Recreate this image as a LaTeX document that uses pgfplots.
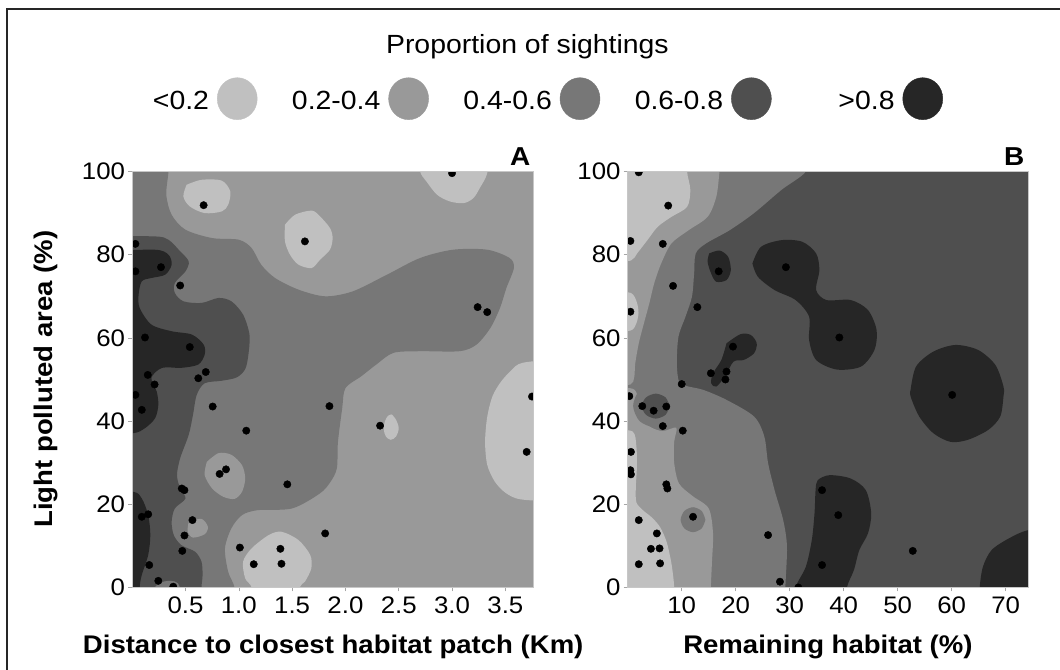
\documentclass[border=0pt]{standalone}
\usepackage{fontspec}
\setmainfont{Liberation Sans}[FakeStretch=1.08]
\usepackage{pgfplots}
\pgfplotsset{compat=1.18}
\definecolor{c1}{HTML}{C0C0C0}
\definecolor{c2}{HTML}{999999}
\definecolor{c3}{HTML}{777777}
\definecolor{c4}{HTML}{4F4F4F}
\definecolor{c5}{HTML}{262626}
\pgfplotsset{
  reg/.style={draw=none, forget plot, smooth, tension=0.5},
  dots/.style={only marks, mark=*, mark size=3.7bp, mark options={draw=black, fill=black}, forget plot},
  contourax/.style={
    scale only axis, height=416bp, ymin=0, ymax=100, ytick={0,20,40,60,80,100},
    tick align=outside, tick pos=left, major tick length=4bp,
    axis line style={draw=black!22, line width=0.6bp},
    tick style={draw=black!35, line width=0.6bp},
    ticklabel style={font=\fontsize{24}{24}\selectfont},
    /pgf/number format/assume math mode=true,
    yticklabel style={inner sep=3bp},
    xticklabel style={inner sep=5bp},
    axis on top, clip marker paths=true, anchor=south west,
  }
}
\begin{document}
\begin{tikzpicture}
\useasboundingbox (0,0) rectangle (1060bp,670bp);
\draw[line width=2.2bp, draw=black!85] (7bp,-10bp) -- (7bp,661bp) -- (1075bp,661bp);

% ---------------- Panel A ----------------
\begin{axis}[contourax, at={(132.2bp,82.5bp)}, width=401.5bp,
  xmin=0, xmax=3.766, xtick={0.5,1,1.5,2,2.5,3,3.5},
  xticklabels={0.5,1.0,1.5,2.0,2.5,3.0,3.5},
  axis background/.style={fill=c2},
  legend columns=5, legend plot pos=right,
  legend style={draw=none, fill=none, at={(0.9908,1.175)}, anchor=center,
    font=\fontsize{26.4}{26.4}\selectfont,
    /tikz/every odd column/.append style={column sep=6bp},
    /tikz/every even column/.append style={column sep=31bp}},
]
\addlegendimage{legend image code/.code={\fill[c1] (20bp,2bp) ellipse [x radius=20bp, y radius=21bp];}}
\addlegendentry{\makebox[90bp][r]{<0.2}}
\addlegendimage{legend image code/.code={\fill[c2] (20bp,2bp) ellipse [x radius=20bp, y radius=21bp];}}
\addlegendentry{\makebox[90bp][r]{0.2-0.4}}
\addlegendimage{legend image code/.code={\fill[c3] (20bp,2bp) ellipse [x radius=20bp, y radius=21bp];}}
\addlegendentry{\makebox[90bp][r]{0.4-0.6}}
\addlegendimage{legend image code/.code={\fill[c4] (20bp,2bp) ellipse [x radius=20bp, y radius=21bp];}}
\addlegendentry{\makebox[90bp][r]{0.6-0.8}}
\addlegendimage{legend image code/.code={\fill[c5] (20bp,2bp) ellipse [x radius=20bp, y radius=21bp];}}
\addlegendentry{\makebox[90bp][r]{>0.8}}

% 0.4-0.6 region
\addplot[reg, fill=c3] coordinates {(-0.3,105) (0.34,105) (0.34,100) (0.32,94.4) (0.37,89.6) (0.50,86.0) (0.75,84.0) (1.00,83.6) (1.12,81.6) (1.21,77.6) (1.34,74.4) (1.56,71.6) (1.81,70.0) (2.07,71.2) (2.39,75.2) (2.70,79.2) (3.01,81.2) (3.33,81.2) (3.54,79.2) (3.58,76.8) (3.51,72.0) (3.45,67.2) (3.36,62.4) (3.23,58.4) (3.07,56.8) (2.70,56.8) (2.45,56.4) (2.29,53.6) (2.15,50.8) (2.00,47.9) (1.97,43.1) (1.93,35.0) (1.92,28.7) (1.86,25.4) (1.76,22.6) (1.50,19.0) (1.18,18.6) (1.03,17.4) (0.93,14.2) (0.87,9.4) (0.90,3.8) (0.96,0) (0.96,-5) (-0.3,-5)};
% 0.2-0.4 islands
\addplot[reg, fill=c2] coordinates {(0.70,30.2) (0.81,32.3) (0.93,31.9) (1.03,29.4) (1.06,26.2) (1.03,23.0) (0.96,21.3) (0.855,21.8) (0.75,23.8) (0.68,27.0) (0.70,30.2)};
\addplot[reg, fill=c2] coordinates {(0.53,15.8) (0.65,16.5) (0.71,14.6) (0.68,12.8) (0.57,12.0) (0.52,13.4) (0.53,15.8)};
% 0.6-0.8 region
\addplot[reg, fill=c4] coordinates {(-0.3,84.4) (0.21,84.4) (0.34,83.6) (0.45,80.8) (0.53,78.4) (0.50,76.0) (0.40,73.2) (0.40,70.8) (0.48,68.8) (0.65,68.4) (0.81,69.6) (0.93,68.8) (1.04,65.6) (1.10,60.8) (1.09,56.0) (1.06,52.5) (0.98,50.5) (0.84,49.7) (0.68,49.1) (0.605,46.3) (0.57,41.5) (0.53,36.7) (0.45,31.1) (0.42,27.0) (0.45,23.8) (0.50,21.4) (0.40,19.0) (0.37,15.8) (0.39,12.6) (0.46,10.2) (0.59,8.6) (0.65,6.2) (0.66,3.0) (0.65,0) (0.65,-5) (-0.3,-5)};
\addplot[reg, fill=c3] coordinates {(0.20,-2) (0.22,0.3) (0.28,1.3) (0.36,1.6) (0.43,1.0) (0.47,-2)};
% >0.8 regions
\addplot[reg, fill=c5] coordinates {(-0.3,80.8) (0.21,81.2) (0.34,80.0) (0.37,77.6) (0.31,75.2) (0.18,74.4) (0.09,73.6) (0.06,70.4) (0.07,67.2) (0.18,63.2) (0.37,61.6) (0.56,60.8) (0.67,58.4) (0.68,56.0) (0.62,53.6) (0.46,52.8) (0.28,52.8) (0.18,50.4) (0.23,47.1) (0.245,43.9) (0.215,40.7) (0.12,38.3) (0.01,37.1) (-0.3,37)};
\addplot[reg, fill=c5] coordinates {(-0.3,23.0) (0.01,23.0) (0.09,21.4) (0.15,17.4) (0.17,12.6) (0.15,7.8) (0.09,3.0) (0.07,0) (0.07,-5) (-0.3,-5)};
% <0.2 islands
\addplot[reg, fill=c1] coordinates {(0.51,96.8) (0.65,98.0) (0.84,97.8) (0.92,95.2) (0.90,92.0) (0.84,90.4) (0.68,90.0) (0.54,91.6) (0.48,94.0) (0.51,96.8)};
\addplot[reg, fill=c1] coordinates {(1.433,87.2) (1.527,89.6) (1.684,90.6) (1.762,89.2) (1.855,86.4) (1.88,84.0) (1.855,81.2) (1.762,78.8) (1.684,76.8) (1.56,77.6) (1.48,80.0) (1.433,83.2) (1.433,87.2)};
\addplot[reg, fill=c1] coordinates {(2.68,105) (2.70,100) (2.76,97.6) (2.86,94.4) (2.98,92.8) (3.11,92.4) (3.20,93.6) (3.26,96.0) (3.33,99.6) (3.34,105)};
\addplot[reg, fill=c1] coordinates {(4.0,55) (3.66,54) (3.56,52.3) (3.46,49.5) (3.38,46) (3.33,41) (3.31,35) (3.33,29.5) (3.40,25.5) (3.50,22.8) (3.64,21.2) (4.0,20.6)};
\addplot[reg, fill=c1] coordinates {(2.436,41.6) (2.475,40.3) (2.50,38.3) (2.475,36.3) (2.425,35.5) (2.38,36.3) (2.36,37.9) (2.37,39.9) (2.40,41.3) (2.436,41.6)};
\addplot[reg, fill=c1] coordinates {(1.12,-5) (1.12,0) (1.06,2.2) (1.04,6.2) (1.12,9.4) (1.28,12.6) (1.40,13.4) (1.56,11.4) (1.67,7.8) (1.68,4.6) (1.62,1.4) (1.57,0) (1.57,-5)};
% sightings
\addplot[dots] coordinates {(0.67,91.9) (1.62,83.2) (0.03,82.6) (0.27,77.0) (0.03,76.0) (0.45,72.6) (0.12,60.1) (0.54,57.8) (0.146,51.1) (0.69,51.8) (0.62,50.3) (3.00,99.6) (3.24,67.4) (3.33,66.2) (0.21,48.8) (0.03,46.3) (0.09,42.7) (0.755,43.5) (1.07,37.7) (0.88,28.4) (0.82,27.3) (1.455,24.8) (0.465,23.8) (0.49,23.4) (0.09,17.0) (0.15,17.6) (0.565,16.2) (0.49,12.5) (0.47,8.8) (0.16,5.4) (0.245,1.6) (0.385,0.2) (1.01,9.6) (1.14,5.6) (1.39,9.3) (1.40,5.7) (1.81,13.0) (1.85,43.6) (2.325,38.9) (3.75,45.9) (3.70,32.6)};
\end{axis}

% ---------------- Panel B ----------------
\begin{axis}[contourax, at={(627.7bp,82.5bp)}, width=400.6bp,
  xmin=0, xmax=74.2, xtick={10,20,30,40,50,60,70},
  axis background/.style={fill=c4},
]
\addplot[reg, fill=c3] coordinates {(-3,105) (33.6,105) (33.0,100) (28.5,95.6) (23.4,90.0) (18.9,85.9) (14.5,82.7) (12.6,80.3) (12.3,75.5) (11.9,69.9) (10.7,65.1) (9.4,60.3) (9.1,53.9) (9.5,49.5) (11.0,48.4) (14,47.5) (18.3,45.1) (23.4,41.1) (25.3,36.3) (26.0,29.9) (27.2,23.4) (28.8,16.2) (29.5,9.8) (29.2,0) (29.2,-5) (-3,-5)};
\addplot[reg, fill=c2] coordinates {(-3,105) (17.3,105) (17.0,100) (16.4,93.9) (14.8,89.1) (11.3,85.9) (8.1,82.7) (6.2,77.9) (4.9,73.1) (4.0,68.3) (3.0,63.5) (2.05,58.7) (1.4,53.9) (1.2,50.5) (0.5,48.8) (-3,48.5)};
\addplot[reg, fill=c2] coordinates {(-3,47.8) (1.3,47.5) (2.6,41) (4.2,38.6) (6.5,37.6) (9.0,38.4) (8.6,35) (8.6,30) (9.5,25) (12,22) (15,19) (15.8,13) (15.6,6) (15.4,0) (15.4,-5) (-3,-5)};
\addplot[reg, fill=c3] coordinates {(14.4,16.3) (13.7,18.4) (12.1,19.3) (10.5,18.4) (9.8,16.3) (10.5,14.2) (12.1,13.3) (13.7,14.2) (14.4,16.3)};
\addplot[reg, fill=c3] coordinates {(9.2,43.7) (8.0,47.4) (5.1,48.9) (2.2,47.4) (1.0,43.7) (2.2,40.0) (5.1,38.5) (8.0,40.0) (9.2,43.7)};
\addplot[reg, fill=c4] coordinates {(7.8,43.6) (7.0,45.7) (5.2,46.6) (3.4,45.7) (2.6,43.6) (3.4,41.5) (5.2,40.6) (7.0,41.5) (7.8,43.6)};
\addplot[reg, fill=c1] coordinates {(-3,105) (11.2,105) (11.0,100) (11.6,95.6) (11.0,91.5) (8.1,89.1) (5.55,86.7) (3.65,83.5) (1.74,80.3) (0.6,78.6) (-3,78.3)};
\addplot[reg, fill=c1] coordinates {(-3,71) (0.6,70.8) (1.7,68.5) (2.0,66) (1.6,63.5) (0.6,61.8) (-3,61.5)};
\addplot[reg, fill=c1] coordinates {(-3,38) (0.9,37.5) (1.6,34) (1.7,29) (1.5,24) (1.6,20.5) (2.8,18.6) (4.5,16.8) (6,14.5) (7.2,11) (8,6.5) (8.4,3) (8.6,0) (8.6,-5) (-3,-5)};
\addplot[reg, fill=c5] coordinates {(15.1,80.3) (17.0,81.0) (18.6,79.5) (19.1,76.3) (18.3,73.9) (16.4,73.5) (15.45,75.5) (14.8,78.3) (15.1,80.3)};
\addplot[reg, fill=c5] coordinates {(23.1,77.9) (24.7,81.9) (28.5,83.5) (32.35,83.1) (34.9,80.3) (35.5,76.3) (34.9,71.5) (36.8,69.1) (41.3,69.1) (44.5,66.7) (46.1,61.9) (45.7,57.1) (43.2,53.1) (38.7,52.4) (34.9,54.7) (33.6,59.5) (33.6,65.1) (31.1,69.1) (27.2,71.5) (24.1,74.7) (23.1,77.9)};
\addplot[reg, fill=c5] coordinates {(18.3,58.7) (20.9,60.9) (22.8,60.7) (23.9,58.7) (23.4,56.3) (21.5,54.7) (19.6,54.3) (18.0,50.7) (16.4,48.3) (15.45,49.1) (15.8,51.5) (17.35,54.7) (18.3,58.7)};
\addplot[reg, fill=c5] coordinates {(52.4,47.5) (53.4,53.1) (56.6,56.7) (60.7,58.3) (64.9,57.1) (68.1,53.5) (69.6,48.3) (69.6,45.9) (69.0,41.1) (66.8,37.9) (63.0,35.5) (59.8,35.0) (56.6,37.1) (54.0,41.1) (52.4,45.9) (52.4,47.5)};
\addplot[reg, fill=c5] coordinates {(31.1,-5) (31.1,0) (33.0,5.0) (34.1,11.4) (34.6,17.8) (34.8,23.4) (35.2,25.8) (37.4,27.0) (41.3,26.2) (44.1,23.4) (45.1,17.8) (44.5,13.0) (42.9,9.0) (41.9,4.2) (40.6,0) (40.6,-5)};
\addplot[reg, fill=c5] coordinates {(65.2,-5) (65.2,0) (65.8,5.0) (67.4,9.0) (70.6,11.8) (74.2,13.8) (80,14.5) (80,-5)};
\addplot[dots] coordinates {(2.05,99.8) (7.5,91.8) (0.5,83.3) (6.5,82.6) (16.85,76.0) (29.3,77.0) (8.4,72.5) (12.9,67.4) (0.5,66.3) (39.2,60.1) (19.5,57.9) (15.4,51.5) (18.3,51.9) (18.1,50.0) (10.0,48.9) (0.3,46.0) (2.7,43.6) (4.8,42.5) (7.15,43.5) (6.5,38.8) (10.2,37.7) (0.6,32.6) (0.5,28.2) (0.6,27.2) (7.15,24.8) (7.35,23.8) (12.1,17.0) (2.05,16.2) (5.4,13.0) (4.3,9.3) (5.9,9.4) (2.05,5.6) (6.0,5.8) (26.0,12.6) (36.0,23.4) (39.0,17.4) (36.0,5.4) (28.2,1.4) (31.6,0) (52.8,8.8) (60.1,46.3)};
\end{axis}

% ---------------- texts ----------------
\node[font=\fontsize{26.4}{26.4}\selectfont, anchor=base, inner sep=0] at (527.4bp,616bp) {Proportion of sightings};
\node[font=\fontsize{26}{26}\selectfont\bfseries, anchor=base east, inner sep=0] at (530.5bp,504bp) {A};
\node[font=\fontsize{26}{26}\selectfont\bfseries, anchor=base east, inner sep=0] at (1024.5bp,504bp) {B};
\node[font=\fontsize{25.6}{25.6}\selectfont\bfseries, anchor=base, inner sep=0] at (333.2bp,16.7bp) {Distance to closest habitat patch (Km)};
\node[font=\fontsize{25.6}{25.6}\selectfont\bfseries, anchor=base, inner sep=0] at (827.9bp,16.7bp) {Remaining habitat (\%)};
\node[font=\fontsize{25.6}{25.6}\selectfont\bfseries, anchor=base, inner sep=0, rotate=90] at (52bp,290.8bp) {Light polluted area (\%)};
\end{tikzpicture}
\end{document}
